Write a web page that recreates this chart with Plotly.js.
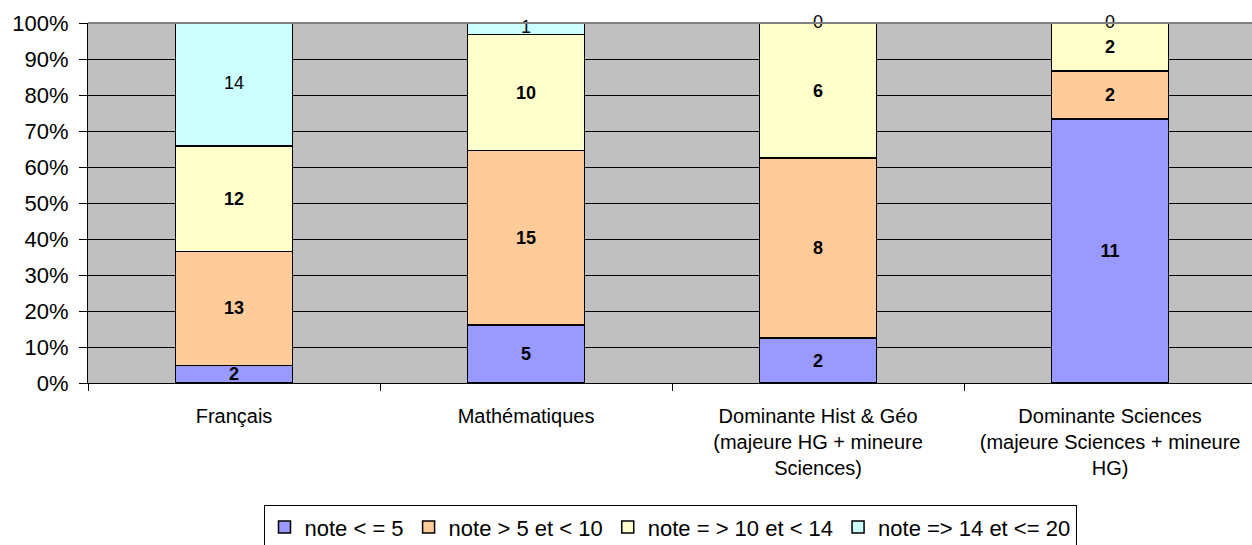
<!DOCTYPE html>
<html>
<head>
<meta charset="utf-8">
<script src="https://cdn.plot.ly/plotly-3.0.1.min.js"></script>
<style>html,body{margin:0;padding:0;background:#fff;}#chart{width:1252px;height:545px;}</style>
</head>
<body>
<div id="chart"></div>
<script>
// Data
const categories = [
  "Français",
  "Mathématiques",
  "Dominante Hist & Géo<br>(majeure HG + mineure<br>Sciences)",
  "Dominante Sciences<br>(majeure Sciences + mineure<br>HG)"
];
const seriesNames = ["note < = 5", "note > 5 et < 10", "note = > 10 et < 14", "note => 14 et <= 20"];
const noteLe5 = [2, 5, 2, 11];
const note5to10 = [13, 15, 8, 2];
const note10to14 = [12, 10, 6, 2];
const note14to20 = [14, 1, 0, 0];
const colors = ["#9999FF", "#FFCC99", "#FFFFCC", "#CCFFFF"];

const series = [noteLe5, note5to10, note10to14, note14to20];
const totals = categories.map((_, i) => series.reduce((s, arr) => s + arr[i], 0));
const pct = series.map(arr => arr.map((v, i) => v / totals[i] * 100));

const FONT = "Liberation Sans, Arial, sans-serif";
const traces = series.map((arr, k) => ({
  type: "bar",
  name: seriesNames[k],
  x: categories,
  y: pct[k],
  text: k < 3 ? arr.map(String) : undefined,
  textposition: k < 3 ? "inside" : "none",
  insidetextanchor: "middle",
  textangle: 0,
  constraintext: "none",
  textfont: {family: FONT, size: 18, color: "#000", weight: "bold"},
  marker: {color: colors[k], line: {color: "#000", width: 1.5}},
  hoverinfo: "skip"
}));

// labels of the top series (centred on its segment, even when empty)
const topBase = categories.map((_, i) => pct[0][i] + pct[1][i] + pct[2][i]);
traces.push({
  type: "scatter",
  mode: "text",
  x: categories,
  y: topBase.map((b, i) => b + pct[3][i] / 2),
  text: note14to20.map(String),
  textposition: "middle center",
  textfont: {family: FONT, size: 18, color: "#000"},
  cliponaxis: false,
  showlegend: false,
  hoverinfo: "skip"
});

const layout = {
  width: 1252,
  height: 545,
  margin: {l: 88, r: 0, t: 23, b: 162, autoexpand: false},
  paper_bgcolor: "#FFFFFF",
  plot_bgcolor: "#C0C0C0",
  barmode: "stack",
  bargap: 0.6,
  font: {family: FONT, color: "#000"},
  xaxis: {
    type: "category",
    range: [-0.5, 3.486],
    automargin: false,
    showgrid: false,
    showline: true,
    linecolor: "#000",
    linewidth: 1,
    ticks: "outside",
    tickson: "boundaries",
    ticklen: 7,
    tickcolor: "#000",
    tickfont: {family: FONT, size: 20, color: "#000"},
    ticklabelstandoff: 15,
    fixedrange: true
  },
  yaxis: {
    range: [0, 100],
    automargin: false,
    tickvals: [0, 10, 20, 30, 40, 50, 60, 70, 80, 90, 100],
    ticktext: ["0%", "10%", "20%", "30%", "40%", "50%", "60%", "70%", "80%", "90%", "100%"],
    showgrid: true,
    gridcolor: "#000",
    gridwidth: 1,
    showline: true,
    linecolor: "#000",
    linewidth: 1,
    ticks: "outside",
    ticklen: 8,
    tickcolor: "#000",
    tickfont: {family: FONT, size: 22, color: "#000"},
    ticklabelstandoff: 6,
    zeroline: false,
    fixedrange: true
  },
  shapes: [{
    type: "line", xref: "paper", yref: "paper",
    x0: 0, x1: 1, y0: 1, y1: 1,
    line: {color: "#808080", width: 2},
    layer: "above"
  }],
  legend: {
    orientation: "h",
    x: 0.5, xanchor: "center",
    yref: "container",
    y: 0.073, yanchor: "top",
    bordercolor: "#000",
    borderwidth: 1,
    bgcolor: "#FFFFFF",
    font: {family: FONT, size: 22, color: "#000"},
    traceorder: "normal",
    itemclick: false,
    itemdoubleclick: false
  },
  showlegend: true
};

Plotly.newPlot("chart", traces, layout, {displayModeBar: false, staticPlot: true});
</script>
</body>
</html>
